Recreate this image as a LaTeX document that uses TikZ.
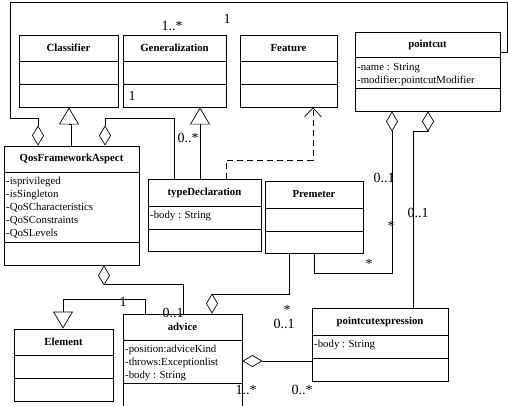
\documentclass[tikz,border=0pt]{standalone}
\usepackage{fontspec}
\setmainfont{Liberation Serif}
\usetikzlibrary{arrows.meta,fit}
\tikzset{
  umlbox/.style={draw, line width=0.9pt, inner sep=0pt},
  sepline/.style={line width=0.9pt},
  clstitle/.style={font=\fontsize{10.8}{13}\selectfont\bfseries, inner sep=0pt},
  attr/.style={font=\fontsize{10.8}{13}\selectfont, inner sep=0pt, anchor=base west},
  conn/.style={line width=0.7pt},
  mult/.style={font=\fontsize{14}{16}\selectfont, inner sep=0pt},
  agg/.tip={Diamond[open, length=20pt, width=12pt]},
  gentri/.tip={Triangle[open, length=17pt, width=20pt]},
  dep/.tip={Straight Barb[length=9pt, width=17pt]}
}
\newcommand\umlcls[8]{%
  \node[umlbox, fit={(#2,#3) (#4,#5)}] (#1) {};
  \draw[sepline] (#2,#6) -- (#4,#6);
  \draw[sepline] (#2,#7) -- (#4,#7);
  \node[clstitle] (#1-title) at ({(#2+#4)/2},{(#3+#6)/2}) {#8};
}
\newcommand\umlattrs[4]{%
  \foreach \t [count=\i] in {#4} {\node[attr] (#1-a\i) at (#2,{#3+13*(\i-1)}) {\t};}
}
\begin{document}
\begin{tikzpicture}[x=1pt, y=-1pt]
\clip (0,0) rectangle (508,405);
\fill[white] (0,0) rectangle (508,405);

% classes
\umlcls{cls}{19}{35}{118}{107}{61}{84}{Classifier}
\umlcls{gen}{123}{35}{226}{107}{61}{84}{Generalization}
\umlcls{feat}{240}{35}{337}{107}{61}{84}{Feature}
\umlcls{pc}{355}{32}{500}{111}{57}{88}{pointcut}
\umlattrs{pc}{357}{70}{-name : String,-modifier:pointcutModifier}
\umlcls{qfa}{4}{146}{139}{265}{172}{242}{QosFrameworkAspect}
\umlattrs{qfa}{6}{184}{-isprivileged,-isSingleton,-QoSCharacteristics,-QoSConstraints,-QoSLevels}
\umlcls{td}{148}{179}{261}{251}{206}{229}{typeDeclaration}
\umlattrs{td}{150}{218}{-body : String}
\umlcls{prem}{265}{181}{363}{253}{208}{231}{Premeter}
\umlcls{elem}{14}{329}{113}{401}{355}{378}{Element}
\umlcls{adv}{123}{314}{242}{412}{340}{383}{advice}
\umlattrs{adv}{125}{352}{-position:adviceKind,-throws:Exceptionlist,-body : String}
\umlcls{pce}{312}{308}{448}{381}{335}{358}{pointcutexpression}
\umlattrs{pce}{314}{347}{-body : String}

% connectors
\draw[conn,-agg] (pc.east |- 0,52) -- (507,52) -- (507,2) -- (10,2) -- (10,118) -- (38,118) -- (38,0 |- qfa.north);
\draw[conn,-gentri] (71,0 |- qfa.north) -- (71,124) -- (69,124) -- (69,0 |- cls.south);
\draw[conn,agg-] (105,0 |- qfa.north) -- (105,118) -- (174,118) -- (174,0 |- td.north);
\draw[conn,-gentri] (200,0 |- td.north) -- (200,0 |- gen.south);
\draw[conn,dash pattern=on 6pt off 4pt,-dep] (226,0 |- td.north) -- (226,160) -- (313,160) -- (313,0 |- feat.south);
\draw[conn,-agg] (314,0 |- prem.south) -- (314,273) -- (392,273) -- (392,0 |- pc.south);
\draw[conn,-agg] (413,0 |- pce.north) -- (413,131) -- (428,131) -- (428,0 |- pc.south);
\draw[conn,-agg] (289,0 |- prem.south) -- (289,294) -- (212,294) -- (212,0 |- adv.north);
\draw[conn,agg-] (104,0 |- qfa.south) -- (104,284) -- (183,284) -- (183,0 |- adv.north);
\draw[conn,-gentri] (145,0 |- adv.north) -- (145,299) -- (63,299) -- (63,0 |- elem.north);
\draw[conn,agg-] (adv.east |- 0,361) -- (pce.west |- 0,361);

% multiplicities
\node[mult] (m1) at (172,26) {1..*};
\node[mult] (m2) at (227,19) {1};
\node[mult] (m3) at (132,96) {1};
\node[mult] (m4) at (188,138) {0..*};
\node[mult] (m5) at (384,178) {0..1};
\node[mult] (m6) at (391,226) {*};
\node[mult] (m7) at (369,264) {*};
\node[mult] (m8) at (418,213) {0..1};
\node[mult] (m9) at (284,324) {0..1};
\node[mult] (m10) at (287,310) {*};
\node[mult] (m11) at (302,390) {0..*};
\node[mult] (m12) at (246,390) {1..*};
\node[mult] (m13) at (123,302) {1};
\node[mult] (m14) at (173,313) {0..1};
\end{tikzpicture}
\end{document}
